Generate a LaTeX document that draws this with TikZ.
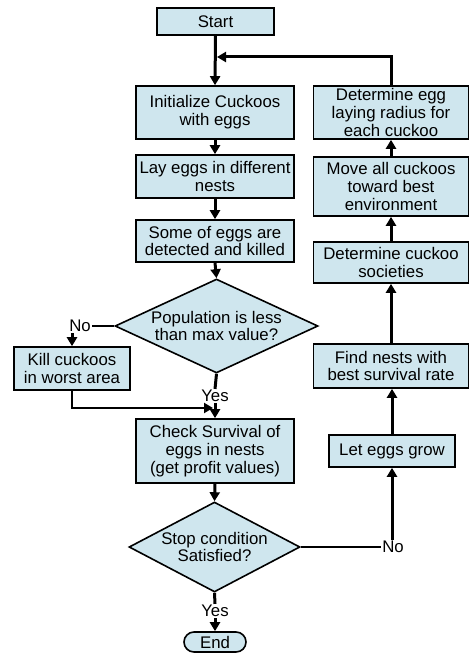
\documentclass[tikz,border=0pt]{standalone}
\usepackage{fontspec}
\setmainfont{Liberation Sans}
\usetikzlibrary{shapes.geometric,arrows.meta}
\definecolor{boxblue}{HTML}{CFE6EE}
\begin{document}
\begin{tikzpicture}[x=1pt,y=-1pt,
  txt/.style={font=\fontsize{16.8}{17.7}\selectfont},
  box/.style={txt,draw=black,line width=1.6pt,fill=boxblue,align=center,inner sep=1pt},
  dia/.style={box,diamond,inner sep=0pt},
  lbl/.style={txt,inner sep=1pt},
  arr/.style={line width=3pt,-{Triangle[length=9pt,width=10pt]}},
  arrline/.style={line width=3pt},
  thinline/.style={line width=2.2pt}]
\useasboundingbox (0,0) rectangle (469,655);
% left column
\node[box,minimum width=117pt,minimum height=27pt] (start) at (215.5,21.5) {Start};
\node[box,minimum width=158pt,minimum height=53pt] (init) at (215,112.5) {Initialize Cuckoos\\with eggs};
\node[box,minimum width=158pt,minimum height=43pt] (lay) at (215,176.5) {Lay eggs in different\\nests};
\node[box,minimum width=158pt,minimum height=42pt] (some) at (215,241) {Some of eggs are\\detected and killed};
\node[dia,aspect=2.3,minimum width=203pt,minimum height=94pt] (d1) at (216.5,326) {Population is less\\than max value?};
\node[box,minimum width=116pt,minimum height=43pt] (kill) at (72,368.5) {Kill cuckoos\\in worst area};
\node[box,minimum width=158pt,minimum height=64pt] (check) at (215,451) {Check Survival of\\eggs in nests\\(get profit values)};
\node[dia,aspect=1.95,minimum width=171pt,minimum height=90pt] (d2) at (214.5,547) {Stop condition\\Satisfied?};
\node[box,rounded corners=10pt,minimum width=62pt,minimum height=20pt] (end) at (215,642) {End};
% right column
\node[box,minimum width=155pt,minimum height=53pt] (degg) at (391,112.5) {Determine egg\\laying radius for\\each cuckoo};
\node[box,minimum width=155pt,minimum height=59pt] (move) at (391,186.5) {Move all cuckoos\\toward best\\environment};
\node[box,minimum width=155pt,minimum height=41pt] (soc) at (391,262.5) {Determine cuckoo\\societies};
\node[box,minimum width=155pt,minimum height=44pt] (find) at (391,366) {Find nests with\\best survival rate};
\node[box,minimum width=126pt,minimum height=32pt] (grow) at (392,451) {Let eggs grow};
% labels
\node[lbl] (no1) at (80,326) {No};
\node[lbl] (yes1) at (215,396) {Yes};
\node[lbl] (yes2) at (215,611) {Yes};
\node[lbl] (no2) at (393,547) {No};
% junction coordinates
\coordinate (jtop) at (217,57);
\coordinate (jright) at (391,57);
\coordinate (jk) at (213,408);
% connectors
\draw[arr] (start.south) -- (init.north);
\draw[arr] (degg.north) -- (jright) -- (jtop);
\draw[arr] (init.south) -- (lay.north);
\draw[arr] (lay.south) -- (some.north);
\draw[arr] (some.south) -- (d1.north);
\draw[thinline] (d1.west) -- (no1.east);
\draw[arr] (kill.north |- no1.south) -- (kill.north);
\draw[arrline] (d1.south) -- (yes1.north);
\draw[arr] (yes1.south) -- (check.north);
\draw[line width=2.5pt,-{Triangle[length=9pt,width=10pt]}] (kill.south) |- (jk);
\draw[arr] (check.south) -- (d2.north);
\draw[arrline] (d2.south) -- (yes2.north);
\draw[arr] (yes2.south) -- (end.north);
\draw[thinline] (d2.east) -- (no2.west);
\draw[arr] (no2.north -| grow.south) -- (grow.south);
\draw[arr] (grow.north) -- (find.south -| grow.north);
\draw[arr] (find.north) -- (soc.south);
\draw[arr] (soc.north) -- (move.south);
\draw[arr] (move.north) -- (degg.south);
\end{tikzpicture}
\end{document}
